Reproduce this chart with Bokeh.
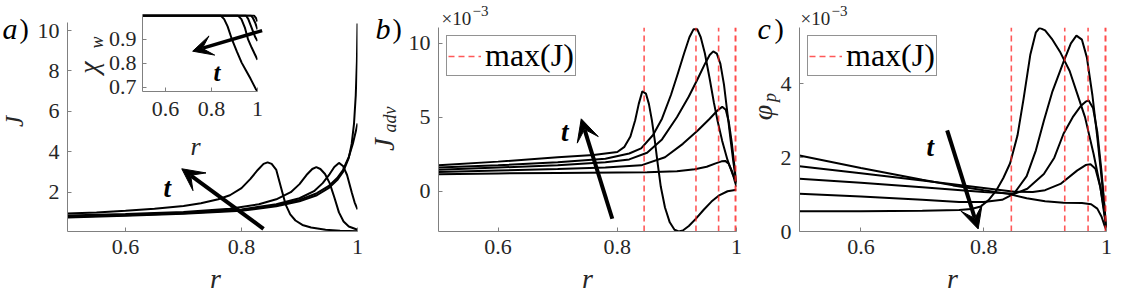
import math
from bokeh.plotting import figure
from bokeh.layouts import row, column
from bokeh.models import Range1d, FixedTicker, Label, Arrow, VeeHead, Legend, LegendItem
from bokeh.embed import file_html
from bokeh.resources import INLINE

# ---------------- data ----------------
x_ticks = [0.6, 0.8, 1.0]
x_tick_labels = ["0.6", "0.8", "1"]
J_ticks = [2, 4, 6, 8, 10]
Jadv_ticks = [0, 5, 10]
phi_ticks = [0, 2, 4]
chi_ticks = [0.7, 0.8, 0.9]

# panel a: J(r), five times (1 = latest)
rJ1 = [0.5, 0.55, 0.6, 0.65, 0.7, 0.73, 0.76, 0.78, 0.8, 0.815, 0.828, 0.838, 0.845, 0.852, 0.86, 0.868, 0.876, 0.884, 0.893, 0.905, 0.92, 0.945, 0.97, 1.0]
J1 = [0.95, 1.0, 1.08, 1.18, 1.32, 1.45, 1.65, 1.85, 2.2, 2.65, 3.1, 3.4, 3.48, 3.4, 3.1, 2.25, 1.4, 0.9, 0.6, 0.38, 0.25, 0.14, 0.09, 0.07]
rJ2 = [0.5, 0.6, 0.7, 0.78, 0.83, 0.86, 0.885, 0.9, 0.912, 0.922, 0.929, 0.936, 0.944, 0.952, 0.96, 0.968, 0.976, 0.985, 1.0]
J2 = [0.85, 0.92, 1.02, 1.18, 1.4, 1.65, 2.0, 2.4, 2.85, 3.15, 3.24, 3.15, 2.9, 2.45, 1.75, 1.0, 0.55, 0.3, 0.14]
rJ3 = [0.5, 0.6, 0.7, 0.8, 0.86, 0.9, 0.925, 0.94, 0.952, 0.96, 0.968, 0.975, 0.982, 0.99, 0.995, 1.0]
J3 = [0.8, 0.88, 0.98, 1.15, 1.4, 1.7, 2.05, 2.45, 2.9, 3.25, 3.45, 3.3, 2.85, 2.0, 1.5, 1.15]
rJ4 = [0.5, 0.6, 0.7, 0.8, 0.86, 0.9, 0.93, 0.95, 0.965, 0.975, 0.985, 0.992, 0.997, 1.0]
J4 = [0.78, 0.86, 0.96, 1.12, 1.35, 1.62, 1.95, 2.3, 2.7, 3.1, 3.75, 4.4, 5.0, 5.4]
rJ5 = [0.5, 0.6, 0.7, 0.8, 0.86, 0.9, 0.93, 0.95, 0.965, 0.975, 0.985, 0.99, 0.994, 0.997, 0.999, 1.0]
J5 = [0.75, 0.83, 0.93, 1.08, 1.3, 1.55, 1.85, 2.2, 2.6, 3.0, 3.7, 4.4, 5.4, 6.8, 8.5, 10.35]

# inset: chi_w(r)
rX1 = [0.5, 0.84, 0.855, 0.87, 0.889, 0.91, 0.931, 0.95, 0.97, 0.994, 1.0]
X1 = [1.0, 1.0, 0.985, 0.955, 0.9, 0.85, 0.803, 0.77, 0.735, 0.69, 0.684]
rX2 = [0.5, 0.915, 0.93, 0.945, 0.959, 0.975, 0.99, 1.0]
X2 = [1.0, 1.0, 0.985, 0.95, 0.9, 0.865, 0.835, 0.815]
rX3 = [0.5, 0.95, 0.96, 0.97, 0.98, 0.99, 1.0]
X3 = [1.0, 1.0, 0.985, 0.96, 0.935, 0.91, 0.893]
rX4 = [0.5, 0.972, 0.98, 0.99, 1.0]
X4 = [1.0, 1.0, 0.99, 0.97, 0.942]
rX5 = [0.5, 0.985, 0.993, 1.0]
X5 = [1.0, 1.0, 0.99, 0.975]

# panel b: J_adv (x 1e-3)
rB1 = [0.5, 0.6, 0.7, 0.76, 0.8, 0.812, 0.822, 0.83, 0.836, 0.842, 0.848, 0.853, 0.858, 0.863, 0.868, 0.873, 0.88, 0.888, 0.896, 0.903, 0.91, 0.92, 0.932, 0.945, 0.958, 0.97, 0.985, 1.0]
B1 = [1.75, 2.0, 2.3, 2.45, 2.65, 3.0, 3.7, 4.8, 5.9, 6.75, 6.6, 5.9, 4.8, 3.4, 1.8, 0.3, -1.1, -2.1, -2.6, -2.72, -2.65, -2.35, -1.85, -1.25, -0.7, -0.3, 0.0, 0.1]
rB2 = [0.5, 0.6, 0.7, 0.78, 0.82, 0.84, 0.86, 0.875, 0.89, 0.902, 0.912, 0.921, 0.928, 0.934, 0.94, 0.947, 0.955, 0.962, 0.968, 0.976, 0.985, 0.993, 1.0]
B2 = [1.6, 1.75, 1.95, 2.2, 2.55, 2.9, 3.8, 4.9, 6.5, 8.0, 9.3, 10.4, 10.95, 10.95, 10.4, 9.3, 7.6, 6.0, 4.8, 3.4, 2.1, 1.2, 0.6]
rB3 = [0.5, 0.6, 0.7, 0.78, 0.82, 0.85, 0.875, 0.9, 0.92, 0.935, 0.947, 0.955, 0.961, 0.967, 0.973, 0.979, 0.985, 0.99, 0.995, 1.0]
B3 = [1.45, 1.6, 1.75, 1.95, 2.15, 2.6, 3.5, 5.0, 6.4, 7.6, 8.6, 9.2, 9.45, 9.3, 8.6, 7.2, 5.2, 3.5, 1.9, 0.5]
rB4 = [0.5, 0.6, 0.7, 0.78, 0.84, 0.88, 0.91, 0.935, 0.955, 0.968, 0.976, 0.982, 0.987, 0.992, 0.996, 1.0]
B4 = [1.3, 1.4, 1.5, 1.6, 1.75, 2.3, 3.2, 4.1, 4.9, 5.45, 5.7, 5.5, 4.7, 3.3, 1.9, 0.6]
rB5 = [0.5, 0.6, 0.7, 0.8, 0.85, 0.9, 0.93, 0.95, 0.965, 0.975, 0.981, 0.987, 0.993, 0.997, 1.0]
B5 = [1.15, 1.2, 1.24, 1.27, 1.29, 1.35, 1.48, 1.65, 1.88, 2.02, 2.05, 1.85, 1.3, 0.7, 0.3]

# panel c: phi_p (x 1e-3)
rC1 = [0.5, 0.6, 0.7, 0.76, 0.78, 0.795, 0.808, 0.82, 0.832, 0.843, 0.855, 0.865, 0.876, 0.885, 0.891, 0.9, 0.912, 0.925, 0.94, 0.952, 0.965, 0.979, 0.99, 0.997, 1.0]
C1 = [0.55, 0.55, 0.56, 0.58, 0.61, 0.68, 0.85, 1.1, 1.45, 1.85, 2.6, 3.6, 4.8, 5.4, 5.52, 5.45, 5.2, 4.85, 4.35, 3.75, 3.1, 2.1, 1.2, 0.4, 0.05]
rC2 = [0.5, 0.6, 0.7, 0.76, 0.8, 0.83, 0.849, 0.87, 0.885, 0.898, 0.912, 0.93, 0.942, 0.951, 0.96, 0.968, 0.977, 0.985, 0.993, 1.0]
C2 = [1.02, 0.95, 0.86, 0.8, 0.8, 0.86, 1.02, 1.5, 2.2, 3.0, 3.8, 4.6, 5.1, 5.31, 5.2, 4.72, 3.7, 2.56, 1.3, 0.05]
rC3 = [0.5, 0.6, 0.7, 0.8, 0.85, 0.871, 0.898, 0.915, 0.93, 0.945, 0.958, 0.966, 0.971, 0.978, 0.985, 0.992, 1.0]
C3 = [1.43, 1.32, 1.2, 1.07, 1.02, 1.16, 1.56, 2.0, 2.65, 3.1, 3.4, 3.52, 3.55, 3.35, 2.7, 1.6, 0.05]
rC4 = [0.5, 0.6, 0.7, 0.8, 0.85, 0.88, 0.9, 0.925, 0.952, 0.966, 0.974, 0.982, 0.99, 0.996, 1.0]
C4 = [1.77, 1.58, 1.38, 1.18, 1.08, 1.07, 1.12, 1.29, 1.65, 1.8, 1.82, 1.7, 1.2, 0.6, 0.05]
rC5 = [0.5, 0.6, 0.7, 0.75, 0.8, 0.84, 0.87, 0.9, 0.93, 0.96, 0.975, 0.985, 0.992, 0.997, 1.0]
C5 = [2.06, 1.72, 1.4, 1.25, 1.12, 1.02, 0.9, 0.82, 0.78, 0.77, 0.74, 0.62, 0.4, 0.15, 0.03]

# r positions of max(J) (red dashed lines)
max_J_r = [0.845, 0.932, 0.970, 0.998, 1.0]

# arrows ("t" direction) and their labels, in data units
arrow_a = (0.838, 0.19, 0.697, 3.16); t_a = (0.672, 2.2)
arrow_in = (0.8356, 10.0, 0.7158, 8.98)   # drawn in panel a units, over the inset
t_in = (0.824, 0.762)                     # inset units
arrow_b = (0.7916, -1.86, 0.7395, 4.89); t_b = (0.712, 3.99)
arrow_c = (0.7405, 2.74, 0.791, 0.07); t_c = (0.713, 2.28)

# ---------------- style ----------------
SERIF = "'Liberation Serif', serif"
INK = "#262626"
AXIS = "#808080"
TICK_SIZE = "22px"
LAB_SIZE = "28px"
H = 290
OV_H = 300
WA, WB, WC = 375, 370, 385
TOTAL_W = WA + WB + WC


def style(p, xt, xl, yt, xstand, ystand):
    p.xgrid.visible = False
    p.ygrid.visible = False
    p.outline_line_color = None
    for axes in (p.xaxis, p.yaxis):
        axes.axis_line_color = AXIS
        axes.axis_line_width = 1
        axes.major_tick_line_color = AXIS
        axes.major_tick_in = 4
        axes.major_tick_out = 0
        axes.minor_tick_line_color = None
        axes.major_label_text_font = SERIF
        axes.major_label_text_font_size = TICK_SIZE
        axes.major_label_text_color = INK
    p.xaxis.ticker = FixedTicker(ticks=xt)
    p.xaxis.major_label_overrides = dict(zip(xt, xl))
    p.yaxis.ticker = FixedTicker(ticks=yt)
    p.xaxis.major_label_standoff = xstand
    p.yaxis.major_label_standoff = ystand


def tlabel(p, pos, size="27px"):
    p.add_layout(Label(x=pos[0], y=pos[1], text="t", text_font=SERIF, text_font_size=size,
                       text_font_style="bold italic", text_align="center",
                       text_baseline="middle", text_color="black"))


def arrow(p, a, size=22, width=4):
    p.add_layout(Arrow(x_start=a[0], y_start=a[1], x_end=a[2], y_end=a[3], line_width=width,
                       line_color="black",
                       end=VeeHead(size=size, fill_color="black", line_color="black", line_width=1)))


def curves(p, pairs):
    for rr, vv in pairs:
        p.line(rr, vv, line_color="black", line_width=2)


def red_lines(p, yr):
    n = len(max_J_r)
    seg = p.segment(x0=max_J_r, x1=max_J_r, y0=[yr.start] * n, y1=[yr.end] * n,
                    line_color="#ff2020", line_alpha=0.75, line_width=1.6, line_dash="6 4")
    leg = Legend(items=[LegendItem(label="max(J)", renderers=[seg])], location="top_left",
                 margin=8, padding=1, spacing=0, glyph_width=33, glyph_height=24,
                 label_standoff=4, label_text_font=SERIF, label_text_font_size="32px",
                 label_text_color="black", border_line_color=INK, border_line_width=1,
                 background_fill_color="white", background_fill_alpha=1.0)
    p.add_layout(leg)


# ---------------- panel a ----------------
ya = Range1d(0.055, 10.40)
pa = figure(width=WA, height=H, x_range=Range1d(0.5, 1.0), y_range=ya,
            output_backend="svg", toolbar_location=None,
            min_border_left=67, min_border_right=WA - 362, min_border_top=22, min_border_bottom=H - 231)
style(pa, x_ticks, x_tick_labels, J_ticks, 8, 8)
curves(pa, [(rJ1, J1), (rJ2, J2), (rJ3, J3), (rJ4, J4), (rJ5, J5)])
arrow(pa, arrow_a)
arrow(pa, arrow_in, size=20, width=3.5)
tlabel(pa, t_a)

# ---------------- inset ----------------
IN_L, IN_T, IN_B, IN_H = 75, 14, 91, 150
pin = figure(width=275 - IN_L, height=IN_H, x_range=Range1d(0.5, 1.0), y_range=Range1d(0.682, 1.0045),
             output_backend="svg", toolbar_location=None,
             min_border_left=138 - IN_L, min_border_right=275 - 257, min_border_top=IN_T,
             min_border_bottom=IN_H - IN_B)
style(pin, x_ticks, x_tick_labels, chi_ticks, 10, 6)
pin.border_fill_alpha = 0.0
pin.background_fill_alpha = 0.0
curves(pin, [(rX1, X1), (rX2, X2), (rX3, X3), (rX4, X4), (rX5, X5)])
tlabel(pin, t_in, size="25px")
pin.margin = (-H, 0, H - IN_H, IN_L)

# ---------------- panel b ----------------
yb = Range1d(-2.72, 11.06)
pb = figure(width=WB, height=H, x_range=Range1d(0.5, 1.0), y_range=yb,
            output_backend="svg", toolbar_location=None,
            min_border_left=438 - WA, min_border_right=WA + WB - 736, min_border_top=27,
            min_border_bottom=H - 231)
style(pb, x_ticks, x_tick_labels, Jadv_ticks, 8, 8)
curves(pb, [(rB1, B1), (rB2, B2), (rB3, B3), (rB4, B4), (rB5, B5)])
red_lines(pb, yb)
arrow(pb, arrow_b)
tlabel(pb, t_b)

# ---------------- panel c ----------------
yc = Range1d(0.0, 5.53)
pc = figure(width=WC, height=H, x_range=Range1d(0.5, 1.0), y_range=yc,
            output_backend="svg", toolbar_location=None,
            min_border_left=799 - WA - WB, min_border_right=TOTAL_W - 1106, min_border_top=27,
            min_border_bottom=H - 231)
style(pc, x_ticks, x_tick_labels, phi_ticks, 8, 8)
curves(pc, [(rC1, C1), (rC2, C2), (rC3, C3), (rC4, C4), (rC5, C5)])
red_lines(pc, yc)
arrow(pc, arrow_c)
tlabel(pc, t_c)

# ---------------- overlay for texts outside the plot frames (page pixels) ----------------
ov = figure(width=TOTAL_W, height=OV_H, x_range=Range1d(0, TOTAL_W), y_range=Range1d(OV_H, 0),
            output_backend="svg", toolbar_location=None, x_axis_type=None, y_axis_type=None,
            min_border_left=0, min_border_right=0, min_border_top=0, min_border_bottom=0)
ov.outline_line_color = None
ov.background_fill_alpha = 0.0
ov.border_fill_alpha = 0.0
ov.margin = (-H, 0, 0, 0)


def text(s, x, y, size=LAB_SIZE, fstyle="italic", align="center", baseline="alphabetic",
         angle=0.0, color=INK):
    ov.add_layout(Label(x=x, y=y, text=s, text_font=SERIF, text_font_size=size,
                        text_font_style=fstyle, text_align=align, text_baseline=baseline,
                        angle=angle, text_color=color))


ROT = math.pi / 2
# panel letters
for letter, lx in (("a", 2), ("b", 375), ("c", 757)):
    text(letter, lx, 28, size="30px", align="left", color="black")
    text(")", lx + 17, 28, size="28px", fstyle="normal", align="left", color="black")
# x labels
for cx in (215, 587, 952):
    text("r", cx, 278)
text("r", 195, 146, size="26px")
# y labels
text("J", 14, 121, size="25px", baseline="middle", angle=ROT)
text("\u03c7", 88, 67, baseline="middle", angle=ROT)
text("w", 96, 42, size="18px", baseline="middle", angle=ROT)
text("J", 383, 144, size="29px", baseline="middle", angle=ROT)
text("adv", 389, 119, size="18px", baseline="middle", angle=ROT)
text("\u03c6", 762, 112, baseline="middle", angle=ROT)
text("p", 769, 97, size="18px", baseline="middle", angle=ROT)
# exponent multipliers
for ex in (441, 800):
    text("\u00d710", ex, 18, size="19px", fstyle="normal", align="left")
    text("\u22123", ex + 31, 10, size="15px", fstyle="normal", align="left")

root = column(row(column(pa, pin), pb, pc), ov)

open("out.html", "w").write(file_html(root, INLINE))
